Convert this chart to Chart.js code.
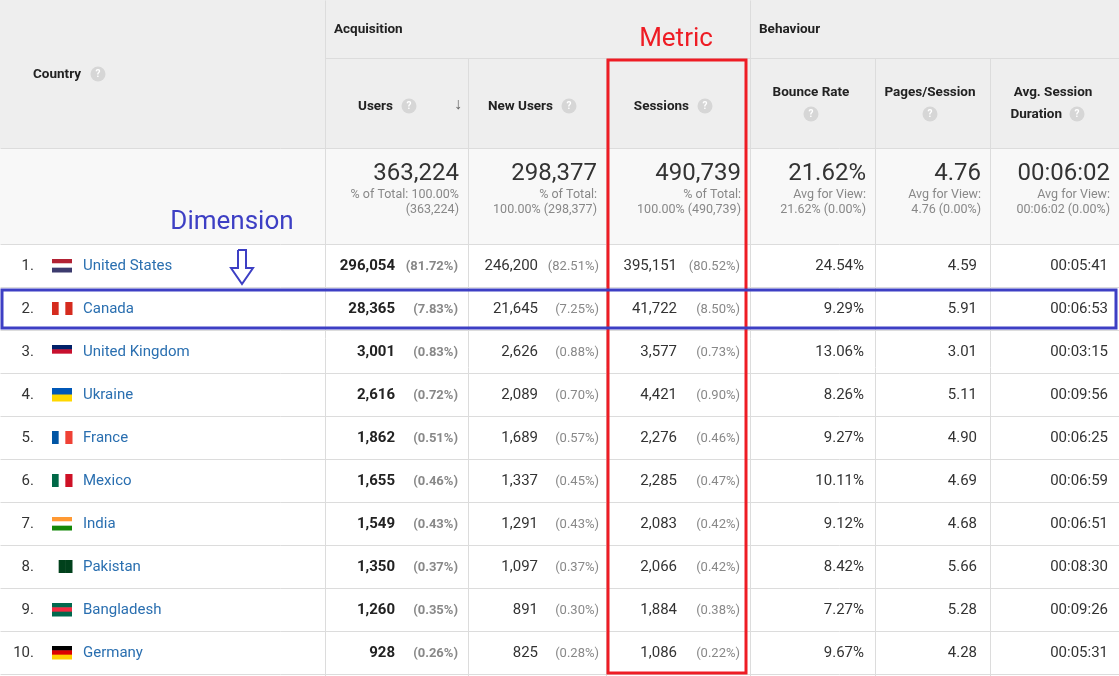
<!DOCTYPE html>
<html><head><meta charset="utf-8">
<script src="https://cdn.jsdelivr.net/npm/chart.js@4"></script>
<style>html,body{margin:0;padding:0;background:#fff}#wrap{width:1119px;height:676px}</style>
</head><body><div id="wrap"><canvas id="c"></canvas></div>
<script>
const countries = ["United States","Canada","United Kingdom","Ukraine","France","Mexico","India","Pakistan","Bangladesh","Germany"];
const users = [296054,28365,3001,2616,1862,1655,1549,1350,1260,928];
const usersPct = ["81.72%","7.83%","0.83%","0.72%","0.51%","0.46%","0.43%","0.37%","0.35%","0.26%"];
const newUsers = [246200,21645,2626,2089,1689,1337,1291,1097,891,825];
const newUsersPct = ["82.51%","7.25%","0.88%","0.70%","0.57%","0.45%","0.43%","0.37%","0.30%","0.28%"];
const sessions = [395151,41722,3577,4421,2276,2285,2083,2066,1884,1086];
const sessionsPct = ["80.52%","8.50%","0.73%","0.90%","0.46%","0.47%","0.42%","0.42%","0.38%","0.22%"];
const bounceRate = ["24.54%","9.29%","13.06%","8.26%","9.27%","10.11%","9.12%","8.42%","7.27%","9.67%"];
const pagesSession = ["4.59","5.91","3.01","5.11","4.90","4.69","4.68","5.66","5.28","4.28"];
const duration = ["00:05:41","00:06:53","00:03:15","00:09:56","00:06:25","00:06:59","00:06:51","00:08:30","00:09:26","00:05:31"];
const totals = ["363,224","298,377","490,739","21.62%","4.76","00:06:02"];
const flags = [["#b22234","#fff","#3c3b6e"],["#d52b1e","#fff","#d52b1e"],["#012169","#c8102e","#fff"],["#0057b7","#ffd700"],["#0055a4","#fff","#ef4135"],["#006847","#fff","#ce1126"],["#ff9933","#fff","#138808"],["#fff","#01411c","#01411c"],["#006a4e","#f42a41","#006a4e"],["#000","#dd0000","#ffce00"]];
const flagVertical = [false,true,false,false,true,true,false,true,false,false];

const cols = [0,325,468,606,750,875,990,1119];
const fmt = n => n.toLocaleString("en-US");
const F = "Roboto, Arial, sans-serif";

const tablePlugin = {
  id: "table",
  afterDraw(chart) {
    const ctx = chart.ctx, X = v => chart.scales.x.getPixelForValue(v), Y = v => chart.scales.y.getPixelForValue(v);
    const txt = (s, x, y, font, color, align) => { ctx.font = font; ctx.fillStyle = color; ctx.textAlign = align || "left"; ctx.textBaseline = "middle"; ctx.fillText(s, X(x), Y(y + 1)); };
    const help = (x, y) => { ctx.beginPath(); ctx.arc(X(x), Y(y), 7.5, 0, 7); ctx.fillStyle = "#d6d6d6"; ctx.fill(); txt("?", x, y - 0.5, "bold 10px " + F, "#fff", "center"); };
    ctx.save();
    ctx.fillStyle = "#eeeeee"; ctx.fillRect(X(0), Y(0), X(1119) - X(0), Y(148) - Y(0));
    ctx.fillStyle = "#f8f8f8"; ctx.fillRect(X(0), Y(148), X(1119) - X(0), Y(244) - Y(148));
    ctx.strokeStyle = "#dcdcdc"; ctx.lineWidth = 1;
    const line = (x1, y1, x2, y2) => { ctx.beginPath(); ctx.moveTo(X(x1) + .5, Y(y1) + .5); ctx.lineTo(X(x2) + .5, Y(y2) + .5); ctx.stroke(); };
    cols.slice(1, 7).forEach((c, i) => line(c, (i === 1 || i === 2 || i === 4 || i === 5) ? 58 : 0, c, 676));
    line(325, 58, 1119, 58); line(0, 148, 1119, 148); line(0, 244, 1119, 244);
    for (let r = 1; r <= 10; r++) line(0, 244 + r * 43, 1119, 244 + r * 43);
    // headers
    const hb = "bold 13.5px " + F;
    txt("Country", 33, 74, hb, "#222"); help(98, 74);
    txt("Acquisition", 334, 29, hb, "#222"); txt("Behaviour", 759, 29, hb, "#222");
    txt("Users", 393, 106, hb, "#222", "right"); help(409, 106); txt("↓", 458, 104, "16px " + F, "#666", "center");
    txt("New Users", 553, 106, hb, "#222", "right"); help(569, 106);
    txt("Sessions", 689, 106, hb, "#222", "right"); help(705, 106);
    txt("Bounce Rate", 811, 92, hb, "#222", "center"); help(811, 114);
    txt("Pages/Session", 930, 92, hb, "#222", "center"); help(930, 114);
    txt("Avg. Session", 1053, 92, hb, "#222", "center"); txt("Duration", 1062, 114, hb, "#222", "right"); help(1077, 114);
    // totals
    const big = "24px " + F, sm = "12.5px " + F, g = "#888";
    const subs = [["% of Total: 100.00%", "(363,224)"], ["% of Total:", "100.00% (298,377)"], ["% of Total:", "100.00% (490,739)"],
                  ["Avg for View:", "21.62% (0.00%)"], ["Avg for View:", "4.76 (0.00%)"], ["Avg for View:", "00:06:02 (0.00%)"]];
    totals.forEach((t, i) => {
      const r = cols[i + 2] - 9;
      txt(t, r, 173, big, "#333", "right");
      txt(subs[i][0], r, 194, sm, g, "right"); txt(subs[i][1], r, 209, sm, g, "right");
    });
    // rows
    const f15 = "15px " + F, p13 = "13px " + F;
    countries.forEach((name, i) => {
      const y = 265.5 + i * 43;
      txt((i + 1) + ".", 34, y, f15, "#333", "right");
      const fc = flags[i], fx = 52, fw = 20, fh = 13, n = fc.length;
      fc.forEach((c, k) => {
        ctx.fillStyle = c;
        if (flagVertical[i]) ctx.fillRect(X(fx + k * fw / n), Y(y - fh / 2), fw / n + 0.5, fh);
        else ctx.fillRect(X(fx), Y(y - fh / 2 + k * fh / n), fw, fh / n + 0.5);
      });
      txt(name, 83, y, f15, "#2a6fb0");
      txt(fmt(users[i]), 395, y, "bold 15px " + F, "#222", "right"); txt("(" + usersPct[i] + ")", 458, y, "bold 13px " + F, "#888", "right");
      txt(fmt(newUsers[i]), 538, y, f15, "#333", "right"); txt("(" + newUsersPct[i] + ")", 599, y, p13, "#888", "right");
      txt(fmt(sessions[i]), 677, y, f15, "#333", "right"); txt("(" + sessionsPct[i] + ")", 740, y, p13, "#888", "right");
      txt(bounceRate[i], 864, y, f15, "#333", "right");
      txt(pagesSession[i], 977, y, f15, "#333", "right");
      txt(duration[i], 1108, y, f15, "#333", "right");
    });
    // annotations
    ctx.lineWidth = 3;
    ctx.strokeStyle = "#ee1c24"; ctx.strokeRect(X(608), Y(60), X(746) - X(608), Y(673) - Y(60));
    txt("Metric", 676, 38, "26px " + F, "#ee1c24", "center");
    ctx.strokeStyle = "#3d3fc4"; ctx.strokeRect(X(2), Y(290), X(1116) - X(2), Y(328) - Y(290));
    txt("Dimension", 232, 221, "26px " + F, "#3d3fc4", "center");
    ctx.lineWidth = 2; ctx.beginPath();
    [[238,250],[246,250],[246,268],[253,268],[242,284],[231,268],[238,268],[238,250]].forEach((p, k) => k ? ctx.lineTo(X(p[0]), Y(p[1])) : ctx.moveTo(X(p[0]), Y(p[1])));
    ctx.stroke();
    ctx.restore();
  }
};

new Chart(document.getElementById("c"), {
  type: "scatter",
  data: { datasets: [{ data: [] }] },
  options: {
    responsive: true, maintainAspectRatio: false, animation: false,
    layout: { padding: 0 },
    plugins: { legend: { display: false }, tooltip: { enabled: false } },
    scales: {
      x: { type: "linear", min: 0, max: 1119, display: false },
      y: { type: "linear", min: 0, max: 676, reverse: true, display: false }
    }
  },
  plugins: [tablePlugin]
});
</script></body></html>
